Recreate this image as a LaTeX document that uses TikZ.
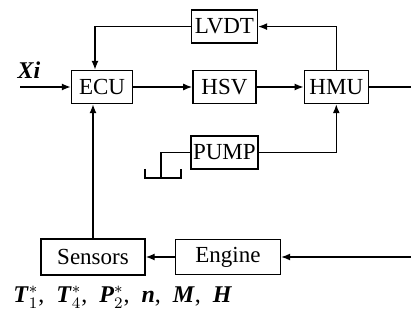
\documentclass[tikz,border=0pt]{standalone}
\usepackage{amsmath}
\usepackage{fontspec}
\setmainfont{Liberation Serif}
\usepackage{tikz}
\usetikzlibrary{positioning,arrows.meta}

\begin{document}
\begin{tikzpicture}[x=0.5pt, y=-0.5pt, line width=0.7pt,
    >={Latex[length=4.5pt,width=3.5pt]},
    blk/.style={draw, line width=0.7pt, minimum height=16.5pt, inner sep=0pt, font=\fontsize{11.5}{14}\selectfont}]
    \useasboundingbox (0,0) rectangle (411,325);

    \node[blk, minimum width=30.5pt] (ecu) at (102,87) {ECU};
    \node[blk, minimum width=31.5pt, right=29.5pt of ecu] (hsv) {HSV};
    \node[blk, minimum width=32pt, right=23.5pt of hsv] (hmu) {HMU};
    \node[blk, minimum width=33pt, above=13pt of hsv] (lvdt) {LVDT};
    \node[blk, minimum width=33.5pt, below=15.5pt of hsv] (pump) {PUMP};
    \node[blk, minimum width=52pt, minimum height=18pt] (sensors) at (93,257) {Sensors};
    \node[blk, minimum width=52.5pt, minimum height=17.5pt, right=14.5pt of sensors] (engine) {Engine};

    \coordinate (xin) at (20,87);
    \coordinate (out) at (411,87);
    \coordinate (ein) at (411,257);
    \coordinate (gnd) at (161,178);
    \node[font=\fontsize{12}{14}\selectfont\bfseries\itshape] (xi) at (29,70) {Xi};
    \node[anchor=west, font=\fontsize{12}{14}\selectfont] (vars) at (6,297)
      {$\textbf{\textit{T}}_1^{*}$,\enspace$\textbf{\textit{T}}_4^{*}$,\enspace$\textbf{\textit{P}}_2^{*}$,\enspace\textbf{\textit{n}},\enspace\textbf{\textit{M}},\enspace\textbf{\textit{H}}};

    \draw[->] (xin) -- (ecu);
    \draw[->] (ecu) -- (hsv);
    \draw[->] (hsv) -- (hmu);
    \draw (hmu) -- (out);
    \draw[->] (hmu.north) |- (lvdt.east);
    \draw[->] (lvdt.west) -| ([xshift=-3.5pt]ecu.north);
    \draw[->] (pump.east) -| (hmu.south);
    \draw (pump.west) -| (gnd);
    \draw ([shift={(-16,-9)}]gnd) -- ([xshift=-8pt]gnd) -- ([xshift=10pt]gnd) -- ([shift={(20,-9)}]gnd);
    \draw[->] (ein) -- (engine);
    \draw[->] (engine) -- (sensors);
    \draw[->] (sensors) -- (sensors |- ecu.south);
\end{tikzpicture}
\end{document}
